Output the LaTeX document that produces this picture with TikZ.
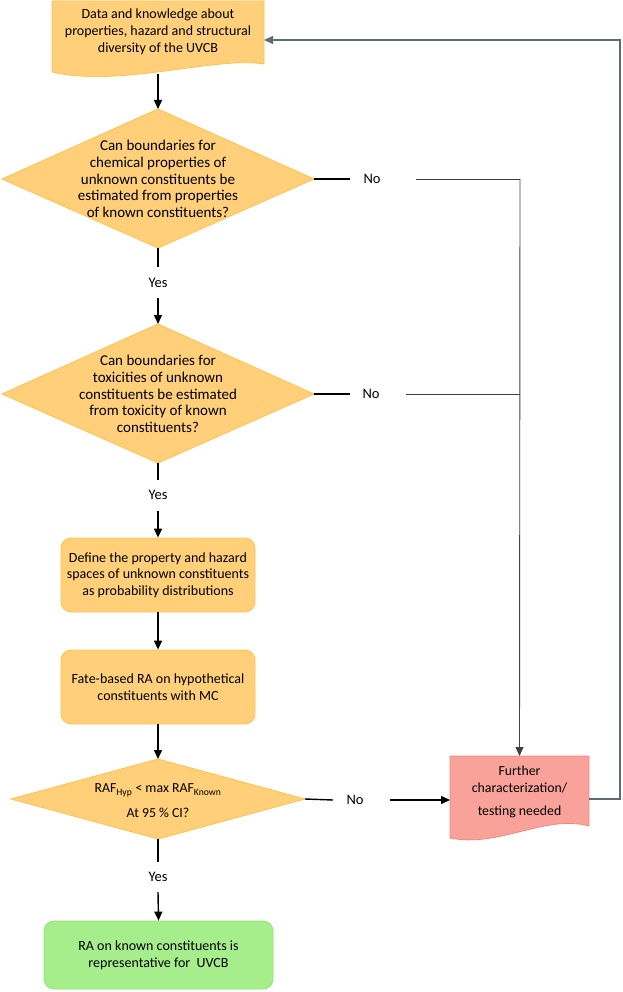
\documentclass[tikz,border=0pt]{standalone}
\usepackage{fontspec}
\setmainfont{Carlito}
\usetikzlibrary{arrows.meta}
\definecolor{ofill}{HTML}{FFCF7A}
\definecolor{oline}{HTML}{FFC24A}
\definecolor{rfill}{HTML}{F9A29A}
\definecolor{rline}{HTML}{F08A80}
\definecolor{gfill}{HTML}{A6EE8C}
\definecolor{gline}{HTML}{90E674}
\definecolor{retline}{HTML}{5E6C78}
\begin{document}
\begin{tikzpicture}[x=1pt,y=-1pt,
  txt/.style={align=center,inner sep=0pt,font=\fontsize{14}{16.8}\selectfont},
  qtxt/.style={align=center,inner sep=0pt,font=\fontsize{15}{16.7}\selectfont},
  obox/.style={draw=oline,fill=ofill,line width=0.8pt,rounded corners=10pt,align=center,font=\fontsize{14}{16.6}\selectfont},
  oshape/.style={draw=oline,fill=ofill,line width=0.8pt},
  main/.style={draw=black,line width=1.4pt},
  arr/.style={main,-{Triangle[length=9pt,width=8pt]}},
  side/.style={draw=black!75,line width=0.7pt},
  lbl/.style={inner sep=0pt,font=\fontsize{14.5}{15}\selectfont}
]
\useasboundingbox (0,0) rectangle (622,992);

% ---- shapes ----
\path[oshape] (52,1) -- (264,1) -- (264,64) .. controls (215,56) and (120,88) .. (52,72) -- cycle;
\coordinate (b1s) at (158,74);
\coordinate (b1e) at (264,40);

\coordinate (d1t) at (158,109); \coordinate (d1r) at (314,179);
\coordinate (d1b) at (158,248); \coordinate (d1l) at (2,179);
\path[oshape] (d1t) -- (d1r) -- (d1b) -- (d1l) -- cycle;

\coordinate (d2t) at (158,324); \coordinate (d2r) at (314,394);
\coordinate (d2b) at (158,463); \coordinate (d2l) at (2,394);
\path[oshape] (d2t) -- (d2r) -- (d2b) -- (d2l) -- cycle;

\coordinate (d3t) at (158,759); \coordinate (d3r) at (305,799);
\coordinate (d3b) at (158,839); \coordinate (d3l) at (11,799);
\path[oshape] (d3t) -- (d3r) -- (d3b) -- (d3l) -- cycle;

\path[draw=rline,fill=rfill,line width=0.8pt] (450,756) -- (589,756) -- (589,826) .. controls (545,814) and (500,848) .. (450,838) -- cycle;
\coordinate (b5n) at (519.5,756);
\coordinate (b5w) at (450,800);
\coordinate (b5e) at (589,799);

% ---- text nodes ----
\node[txt] (t1) at (158,32) {Data and knowledge about\\properties, hazard and structural\\diversity of the UVCB};
\node[qtxt] (q1) at (158,179) {Can boundaries for\\chemical properties of\\unknown constituents be\\estimated from properties\\of known constituents?};
\node[qtxt] (q2) at (158,394) {Can boundaries for\\toxicities of unknown\\constituents be estimated\\from toxicity of known\\constituents?};
\node[obox,minimum width=194pt,minimum height=74pt] (b3) at (158,575) {Define the property and hazard\\spaces of unknown constituents\\as probability distributions};
\node[obox,minimum width=194pt,minimum height=74pt] (b4) at (158,687) {Fate-based RA on hypothetical\\constituents with MC};
\node[txt,font=\fontsize{13.8}{25}\selectfont] (q3) at (158,801) {RAF\textsubscript{Hyp} < max RAF\textsubscript{Known}\\At 95 \% CI?};
\node[txt,font=\fontsize{13.8}{16.8}\selectfont] (t5) at (519.5,792) {Further\\characterization/\\[7pt]testing needed};
\node[obox,draw=gline,fill=gfill,minimum width=229pt,minimum height=68pt] (b6) at (158.5,955) {RA on known constituents is\\representative for\ \ UVCB};

% ---- labels ----
\node[lbl] (no1) at (372,179) {No};
\node[lbl] (no2) at (371,394) {No};
\node[lbl] (no3) at (355,800) {No};
\node[lbl] (y1) at (158,283) {Yes};
\node[lbl] (y2) at (158,495) {Yes};
\node[lbl] (y3) at (158,877) {Yes};

\coordinate (n1a) at (350,179); \coordinate (n1b) at (416,179); \coordinate (c1) at (520,179);
\coordinate (n2a) at (350,394); \coordinate (n2b) at (406,394); \coordinate (c2) at (520,394);
\coordinate (n3a) at (333,800); \coordinate (n3b) at (390,800);
\coordinate (y1a) at (158,267); \coordinate (y1b) at (158,298);
\coordinate (y2a) at (158,480); \coordinate (y2b) at (158,511);
\coordinate (y3a) at (158,862); \coordinate (y3b) at (158,892);
\coordinate (r1) at (620,799); \coordinate (r2) at (620,40);

% ---- connectors ----
\draw[arr] (b1s) -- (d1t);
\draw[main] (d1b) -- (y1a);
\draw[arr] (y1b) -- (d2t);
\draw[main] (d2b) -- (y2a);
\draw[arr] (y2b) -- (b3.north);
\draw[arr] (b3.south) -- (b4.north);
\draw[arr] (b4.south) -- (d3t);
\draw[main] (d3b) -- (y3a);
\draw[arr] (y3b) -- (b6.north);

\draw[main] (d1r) -- (n1a);
\draw[side] (n1b) -- (c1);
\draw[main] (d2r) -- (n2a);
\draw[side] (n2b) -- (c2);
\draw[side,-{Triangle[length=9pt,width=8pt]},line width=0.9pt] (c1) -- (b5n);
\draw[main] (d3r) -- (n3a);
\draw[arr] (n3b) -- (b5w);
\draw[draw=retline,line width=1.3pt,-{Triangle[length=9pt,width=8pt]}] (b5e) -- (r1) -- (r2) -- (b1e);
\end{tikzpicture}
\end{document}
